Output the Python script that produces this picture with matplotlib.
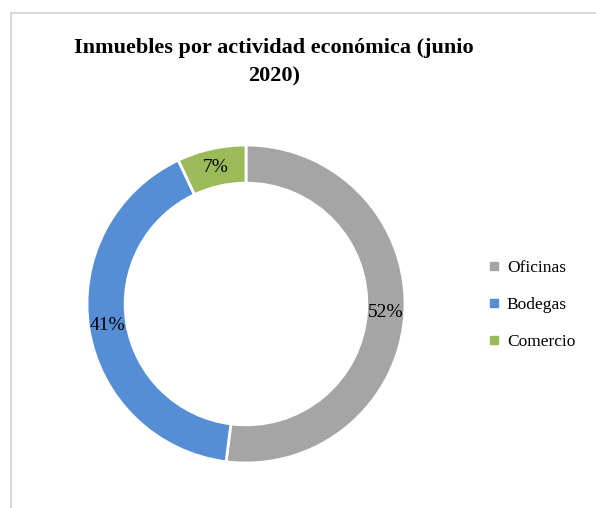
import numpy as np
import matplotlib.pyplot as plt
from matplotlib.patches import Rectangle
from matplotlib.lines import Line2D

categories = ['Oficinas', 'Bodegas', 'Comercio']
shares = [52, 41, 7]
colors = ['#A5A5A5', '#558ED5', '#9BBB59']
title = 'Inmuebles por actividad económica (junio\n2020)'

W, H = 596, 508
fig = plt.figure(figsize=(W / 100, H / 100), dpi=100)
plt.rcParams['font.family'] = ['Liberation Serif', 'DejaVu Serif']

# chart frame (runs past right and bottom edges)
fig.add_artist(Rectangle((11 / W, -0.1), 1.0, (H - 13) / H + 0.1,
                         transform=fig.transFigure, fill=False,
                         ec='#d9d9d9', lw=1.5))

cx, cy, r = 246, 304, 159
ax = fig.add_axes([(cx - r) / W, (H - cy - r) / H, 2 * r / W, 2 * r / H])
wedges, _ = ax.pie(shares, colors=colors, startangle=90, counterclock=False,
                   radius=1.0, wedgeprops=dict(width=0.24, edgecolor='white', linewidth=2))
ax.set_xlim(-1, 1)
ax.set_ylim(-1, 1)

start = 90.0
for val in shares:
    ang = np.deg2rad(start - val * 3.6 / 2)
    ax.text(0.88 * np.cos(ang), 0.88 * np.sin(ang), '%d%%' % val,
            ha='center', va='center', fontsize=14, color='#000000')
    start -= val * 3.6

fig.text(274 / W, 1 - 62 / H, title, ha='center', va='center',
         fontsize=16, fontweight='bold', linespacing=1.55)

handles = [Line2D([], [], marker='s', ls='', color=c, markersize=6) for c in colors]
fig.legend(handles, categories, loc='center left', bbox_to_anchor=(473 / W, 1 - 305 / H),
           frameon=False, fontsize=12.5, handlelength=0.6, handletextpad=0.45,
           labelspacing=1.2)

fig.savefig('out.png', dpi=100)
